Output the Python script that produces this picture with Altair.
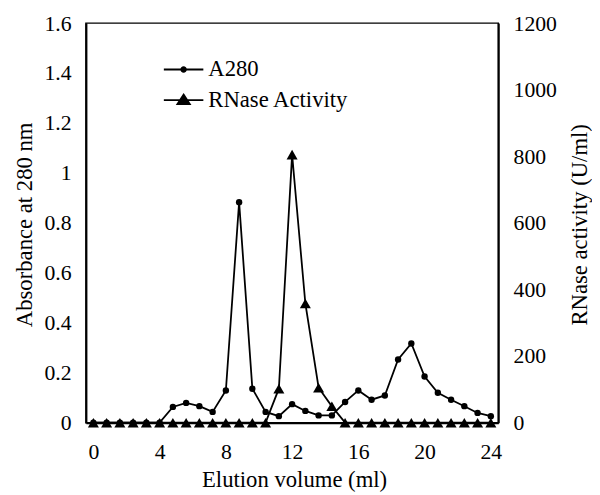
import altair as alt
import pandas as pd

volume = [round(0.8 * i, 1) for i in range(31)]
a280 = [0, 0, 0, 0, 0, 0, 0.063, 0.079, 0.066, 0.043, 0.129, 0.883, 0.136, 0.043,
        0.026, 0.074, 0.047, 0.029, 0.029, 0.083, 0.129, 0.092, 0.109, 0.253, 0.317,
        0.185, 0.12, 0.092, 0.066, 0.039, 0.026]
rnase = [0, 0, 0, 0, 0, 0, 0, 0, 0, 0, 0, 0, 0, 0,
         102, 805, 358, 105, 49, 0, 0, 0, 0, 0, 0, 0, 0, 0, 0, 0, 0]
series_names = ["A280", "RNase Activity"]
x_ticks = [0, 4, 8, 12, 16, 20, 24]
left_ticks = [0, 0.2, 0.4, 0.6, 0.8, 1, 1.2, 1.4, 1.6]
right_ticks = [0, 200, 400, 600, 800, 1000, 1200]

df = pd.DataFrame({"volume": volume, "a280": a280, "rnase": rnase})
legend_df = pd.DataFrame({"series": series_names})

FONT = "Liberation Serif"
FS = 22
TFS = 23

xscale = alt.Scale(domain=[-0.45, 24.45], nice=False, zero=False)
x_enc = alt.X("volume:Q", scale=xscale,
              axis=alt.Axis(values=x_ticks, title="Elution volume (ml)", ticks=False,
                            labelPadding=19, grid=False, domainColor="black", domainWidth=2,
                            format="d",
                            titleX=211, titleY=65, titleBaseline="alphabetic",
                            titleAlign="center"))

y_left = alt.Y("a280:Q", scale=alt.Scale(domain=[0, 1.6], nice=False),
               axis=alt.Axis(values=left_ticks, title="Absorbance at 280 nm", ticks=False,
                             labelPadding=15, grid=False, domainColor="black", domainWidth=2,
                             format="~g",
                             titleAngle=270, titleX=-55, titleY=204,
                             titleBaseline="alphabetic", titleAlign="center"))
y_right = alt.Y("rnase:Q", scale=alt.Scale(domain=[0, 1200], nice=False),
                axis=alt.Axis(orient="right", values=right_ticks, title="RNase activity (U/ml)",
                              ticks=False, labelPadding=15, grid=False, domainColor="black",
                              format="d",
                              domainWidth=2, titleAngle=270, titleX=89, titleY=204,
                              titleBaseline="alphabetic", titleAlign="center"))

base = alt.Chart(df)
a_line = base.mark_line(color="black", strokeWidth=1.8, clip=False).encode(x=x_enc, y=y_left)
a_pts = base.mark_point(shape="circle", filled=True, color="black", size=42, opacity=1,
                        clip=False).encode(x=x_enc, y=y_left)
r_line = base.mark_line(color="black", strokeWidth=1.8, clip=False).encode(x=x_enc, y=y_right)
r_pts = base.mark_point(shape="triangle-up", filled=True, color="black", size=125, opacity=1,
                        clip=False).encode(x=x_enc, y=y_right)

circle_path = "M-1.43,0H1.43M-0.17,0A0.17,0.17 0 1,0 0.17,0A0.17,0.17 0 1,0 -0.17,0Z"
tri_path = "M-1.43,0H1.43M0,-0.4L0.45,0.3L-0.45,0.3Z"

legend_layer = alt.Chart(legend_df).transform_filter("false").mark_point(
    filled=True, fill="black", stroke="black", strokeWidth=1.8, opacity=1
).encode(
    shape=alt.Shape("series:N",
                    scale=alt.Scale(domain=series_names, range=[circle_path, tri_path]),
                    legend=alt.Legend(orient="none", legendX=84, legendY=32, title=None,
                                      symbolSize=784, symbolStrokeWidth=1.8,
                                      symbolOpacity=1, labelFont=FONT, labelFontSize=TFS,
                                      labelColor="black", labelOffset=10, rowPadding=4,
                                      padding=0, labelLimit=300))
)

chart = alt.layer(
    alt.layer(a_line, a_pts),
    alt.layer(r_line, r_pts),
    legend_layer,
).resolve_scale(y="independent").properties(
    width=418, height=405,
    autosize=alt.AutoSizeParams(type="none"),
    padding={"left": 79, "top": 12, "right": 95, "bottom": 70},
    background="white",
).configure_view(stroke="black", strokeWidth=1.5).configure_axis(
    labelFont=FONT, labelFontSize=FS, labelColor="black",
    titleFont=FONT, titleFontSize=TFS, titleColor="black", titleFontWeight="normal",
)

chart.save("out.html", embed_options={"renderer": "svg", "actions": False})
